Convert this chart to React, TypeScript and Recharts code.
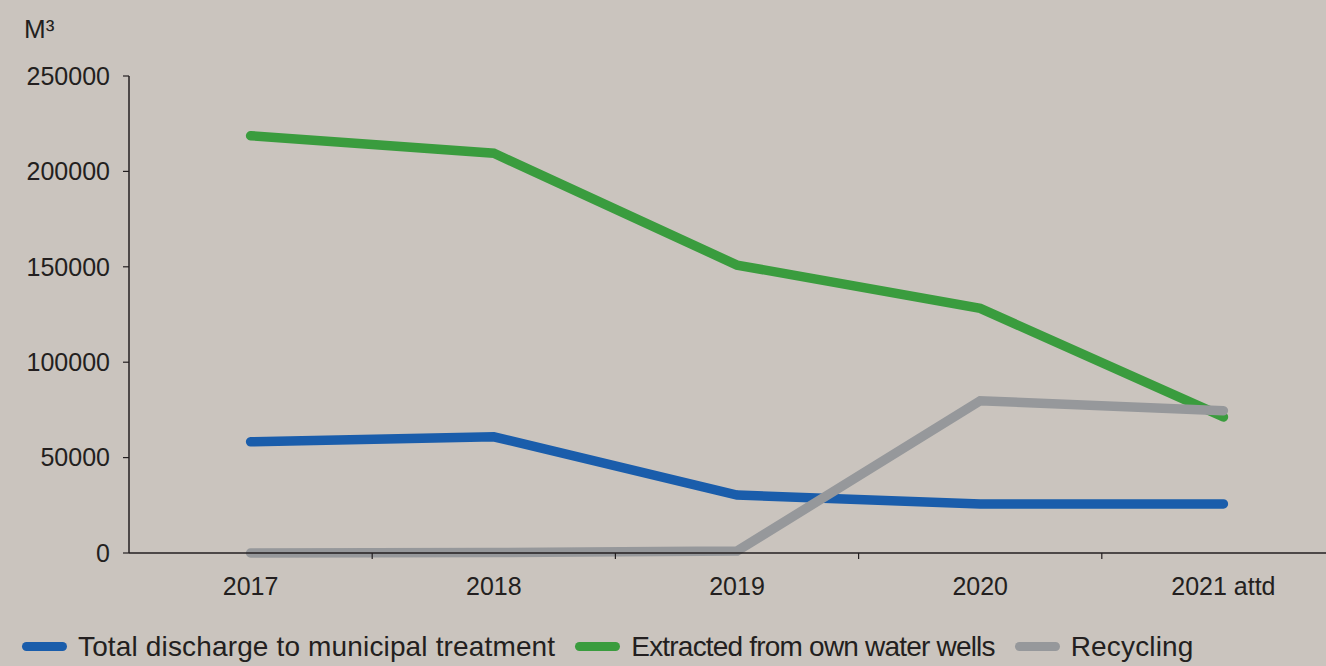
import React from 'react';
import { LineChart, Line, XAxis, YAxis, Legend } from 'recharts';

const categories = ['2017', '2018', '2019', '2020', '2021 attd'];
const discharge = [58300, 60900, 30400, 25700, 25700];
const wells = [218700, 209500, 150900, 128200, 71300];
const recycling = [0, 200, 1000, 79800, 74600];
const yTicks = [0, 50000, 100000, 150000, 200000, 250000];

const seriesKeys = ['discharge', 'wells', 'recycling'];
const seriesNames: Record<string, string> = {
  discharge: 'Total discharge to municipal treatment',
  wells: 'Extracted from own water wells',
  recycling: 'Recycling',
};
const colors: Record<string, string> = {
  discharge: '#1a5dab',
  wells: '#3a9c3e',
  recycling: '#96989b',
};
const legendSpacing: Record<string, number> = {
  discharge: 0.15,
  wells: -0.8,
  recycling: 0.15,
};

const data = categories.map((c, i) => ({
  year: c,
  discharge: discharge[i],
  wells: wells[i],
  recycling: recycling[i],
}));

const FONT = '"Liberation Sans", Arial, Helvetica, sans-serif';
const TEXT = '#231f20';
const CHART_W = 1345;
const CHART_H = 666;
const Y_AXIS_W = 129;
const PLOT_W = CHART_W - Y_AXIS_W;
const BAND = PLOT_W / categories.length;
const X_TICK_SIZE = 6;
const X_TICK_MARGIN = 18;

const XTick = (props: any) => {
  const { x, y, payload, index } = props;
  const axisY = y - X_TICK_SIZE - X_TICK_MARGIN;
  return (
    <g>
      <text
        x={x}
        y={y}
        dy="0.71em"
        textAnchor="middle"
        fill={TEXT}
        fontSize={25}
        fontFamily={FONT}
      >
        {payload.value}
      </text>
      {index < categories.length - 1 && (
        <line
          x1={x + BAND / 2}
          x2={x + BAND / 2}
          y1={axisY}
          y2={axisY + 6}
          stroke={TEXT}
          strokeWidth={1.2}
        />
      )}
    </g>
  );
};

const renderLegend = (props: any) => {
  const payload = [...(props.payload || [])].sort(
    (a: any, b: any) => seriesKeys.indexOf(a.dataKey) - seriesKeys.indexOf(b.dataKey)
  );
  return (
    <div
      style={{
        display: 'flex',
        alignItems: 'center',
        height: 53,
        boxSizing: 'border-box',
        paddingTop: 14,
        paddingLeft: 22,
        fontFamily: FONT,
        fontSize: 28,
        color: TEXT,
        whiteSpace: 'nowrap',
      }}
    >
      {payload.map((p: any) => (
        <div key={p.value} style={{ display: 'flex', alignItems: 'center', marginRight: 20 }}>
          <span
            style={{
              display: 'inline-block',
              width: 45,
              height: 9,
              borderRadius: 4.5,
              background: p.color,
              marginRight: 11,
            }}
          />
          <span style={{ letterSpacing: `${legendSpacing[p.dataKey] ?? 0}px` }}>{p.value}</span>
        </div>
      ))}
    </div>
  );
};

export default function App() {
  return (
    <div
      style={{
        position: 'absolute',
        left: 0,
        top: 0,
        width: 1326,
        height: 666,
        overflow: 'hidden',
        background: '#cac4be',
      }}
    >
      <div
        style={{
          position: 'absolute',
          left: 24,
          top: 16,
          fontFamily: FONT,
          fontSize: 26,
          lineHeight: '26px',
          color: TEXT,
        }}
      >
        M³
      </div>
      <LineChart
        width={CHART_W}
        height={CHART_H}
        data={data}
        margin={{ top: 76, right: 0, bottom: 0, left: 0 }}
      >
        <XAxis
          dataKey="year"
          padding={{ left: BAND / 2, right: BAND / 2 }}
          height={60}
          tickLine={false}
          tickSize={X_TICK_SIZE}
          tickMargin={X_TICK_MARGIN}
          axisLine={{ stroke: TEXT, strokeWidth: 1.5 }}
          tick={<XTick />}
          interval={0}
        />
        <YAxis
          width={Y_AXIS_W}
          domain={[0, 250000]}
          ticks={yTicks}
          interval={0}
          tickSize={6}
          tickMargin={13}
          axisLine={{ stroke: TEXT, strokeWidth: 1.5 }}
          tickLine={{ stroke: TEXT, strokeWidth: 1.2 }}
          tick={{ fill: TEXT, fontSize: 25, fontFamily: FONT }}
        />
        <Legend
          verticalAlign="bottom"
          align="left"
          content={renderLegend}
          wrapperStyle={{ left: 0, width: 1326 }}
        />
        {seriesKeys.map((k) => (
          <Line
            key={k}
            type="linear"
            dataKey={k}
            name={seriesNames[k]}
            stroke={colors[k]}
            strokeWidth={9.5}
            strokeLinecap="round"
            dot={false}
            activeDot={false}
            isAnimationActive={false}
          />
        ))}
      </LineChart>
    </div>
  );
}
